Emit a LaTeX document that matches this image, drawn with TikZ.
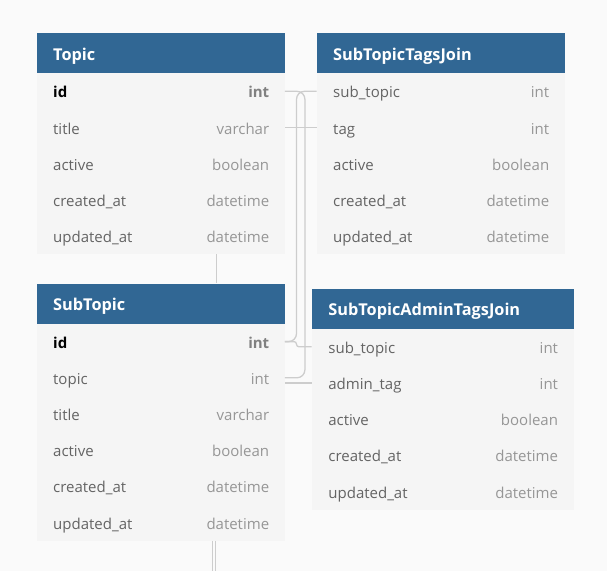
\documentclass[tikz,border=0pt]{standalone}
\usepackage{fontspec}
\setmainfont{Open Sans}
\usetikzlibrary{positioning}

\definecolor{hdrblue}{RGB}{49,103,148}
\definecolor{bodygray}{RGB}{245,245,245}
\definecolor{pagegray}{RGB}{250,250,250}
\definecolor{namegray}{RGB}{100,100,100}
\definecolor{typegray}{RGB}{150,150,150}
\definecolor{linegray}{RGB}{205,205,205}

\newcommand\rowfont{\fontsize{15}{18}\selectfont}

\tikzset{
  hdr/.style={fill=hdrblue, text=white, font=\fontsize{16.3}{19}\selectfont\bfseries, anchor=north west, minimum height=40pt, inner xsep=16.5pt, inner ysep=0pt, text height=14pt, text depth=0pt, align=left},
  row/.style={fill=bodygray, anchor=north west, minimum height=36.2pt, inner sep=0pt},
  colname/.style={text=namegray, font=\rowfont, anchor=base west, inner sep=0pt},
  coltype/.style={text=typegray, font=\rowfont, anchor=base east, inner sep=0pt},
  pkname/.style={text=black, font=\rowfont\bfseries, anchor=base west, inner sep=0pt},
  pktype/.style={text=typegray!85!black, font=\rowfont\bfseries, anchor=base east, inner sep=0pt},
  link/.style={draw=linegray, line width=1.3pt, rounded corners=8pt},
}

\begin{document}
\begin{tikzpicture}[x=1pt, y=-1pt]
\useasboundingbox (0,0) rectangle (607,571);
\fill[pagegray] (0,0) rectangle (607,571);

% Topic
\node[hdr, text width=215pt] (topic) at (36.5,33) {Topic};
\foreach \nm/\ty/\st [count=\i from 0] in {id/int/pk, title/varchar/col, active/boolean/col, created_at/datetime/col, updated_at/datetime/col} {
  \node[row, minimum width=248pt] (topic-\nm) at (36.5,73+36.2*\i) {};
  \node[\st name] at ([xshift=16.5pt, yshift=-6.5pt]topic-\nm.west) {\detokenize\expandafter{\nm}};
  \node[\st type] at ([xshift=-15.5pt, yshift=-6.5pt]topic-\nm.east) {\ty};
}

% SubTopicTagsJoin
\node[hdr, text width=215pt] (tags) at (316.5,33) {SubTopicTagsJoin};
\foreach \nm/\ty/\st [count=\i from 0] in {sub_topic/int/col, tag/int/col, active/boolean/col, created_at/datetime/col, updated_at/datetime/col} {
  \node[row, minimum width=248pt] (tags-\nm) at (316.5,73+36.2*\i) {};
  \node[\st name] at ([xshift=16.5pt, yshift=-6.5pt]tags-\nm.west) {\detokenize\expandafter{\nm}};
  \node[\st type] at ([xshift=-15.5pt, yshift=-6.5pt]tags-\nm.east) {\ty};
}

% SubTopic
\node[hdr, text width=215pt] (subtopic) at (36.5,283.3) {SubTopic};
\foreach \nm/\ty/\st [count=\i from 0] in {id/int/pk, topic/int/col, title/varchar/col, active/boolean/col, created_at/datetime/col, updated_at/datetime/col} {
  \node[row, minimum width=248pt] (subtopic-\nm) at (36.5,323.3+36.2*\i) {};
  \node[\st name] at ([xshift=16.5pt, yshift=-6.5pt]subtopic-\nm.west) {\detokenize\expandafter{\nm}};
  \node[\st type] at ([xshift=-15.5pt, yshift=-6.5pt]subtopic-\nm.east) {\ty};
}

% SubTopicAdminTagsJoin
\node[hdr, text width=228.6pt] (admin) at (311.7,288.5) {SubTopicAdminTagsJoin};
\foreach \nm/\ty/\st [count=\i from 0] in {sub_topic/int/col, admin_tag/int/col, active/boolean/col, created_at/datetime/col, updated_at/datetime/col} {
  \node[row, minimum width=261.6pt] (admin-\nm) at (311.7,328.5+36.2*\i) {};
  \node[\st name] at ([xshift=16.5pt, yshift=-6.5pt]admin-\nm.west) {\detokenize\expandafter{\nm}};
  \node[\st type] at ([xshift=-15.5pt, yshift=-6.5pt]admin-\nm.east) {\ty};
}

% references
\draw[link] (topic-id.east) -- ++(20,0) |- (subtopic-topic.east);
\draw[link] (tags-sub_topic.west) -- ++(-20,0) |- (subtopic-id.east);
\draw[link, rounded corners=2.5pt] (admin-sub_topic.west) -- ++(-15.2,0) |- (subtopic-id.east);
\draw[link] (tags-tag.west) -- (tags-tag.west -| topic-title.east);
\draw[link] (admin-admin_tag.west) -- (admin-admin_tag.west -| subtopic-topic.east);
\draw[link] ([xshift=56pt]topic-updated_at.south) -- ([xshift=56pt]subtopic.north);
\draw[link] ([xshift=52pt]subtopic-updated_at.south) -- ++(0,30);
\draw[link] ([xshift=55pt]subtopic-updated_at.south) -- ++(0,30);
\end{tikzpicture}
\end{document}
